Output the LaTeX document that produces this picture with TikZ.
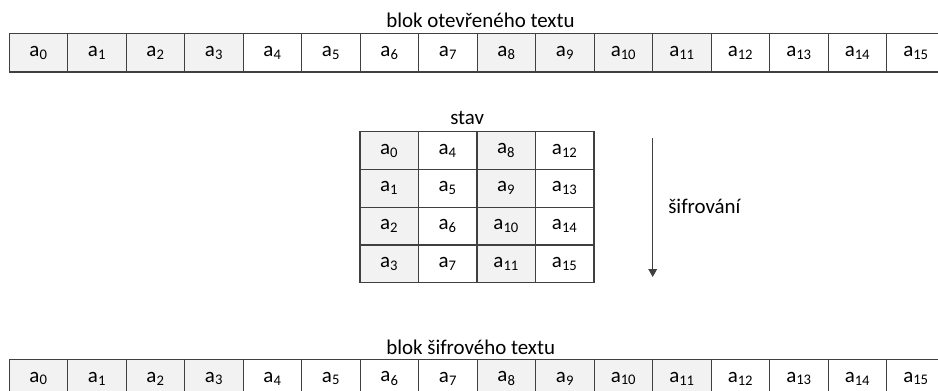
\documentclass[tikz,border=0pt]{standalone}
\usepackage{fontspec}
\setmainfont{Carlito}
\usetikzlibrary{arrows.meta,positioning}
\definecolor{cellline}{HTML}{404040}
\definecolor{cellgray}{HTML}{F2F2F2}
\newcommand{\byte}[1]{a\textsubscript{#1}}

\begin{document}
\begin{tikzpicture}[x=0.75pt,y=-0.75pt,
  every node/.style={font=\fontsize{15.7}{18}\selectfont},
  cell/.style={minimum width=43.9pt,minimum height=28.9pt,inner sep=0pt,outer sep=0pt},
  gridcell/.style={cell,minimum height=28.3pt},
  border/.style={draw=cellline,line width=1pt},
  caption/.style={anchor=base west,inner sep=0pt},
  arrow/.style={-{Triangle[length=6pt,width=6.5pt]},line width=0.9pt,draw=cellline}
]
\useasboundingbox (0,0) rectangle (938,390);
\clip (0,0) rectangle (938,390);
% plaintext block on top, ciphertext block at the bottom
\node[caption] (plainlbl) at (386,27.3) {blok otevřeného textu};
\node[caption] (cipherlbl) at (386,354.3) {blok šifrového textu};
\foreach \i in {0,...,15} {
  \pgfmathtruncatemacro{\col}{int(\i/4)}
  \ifodd\col \def\shade{white}\else\def\shade{cellgray}\fi
  \node[cell,fill=\shade] (p\i) at ({9.3+58.5*(\i+0.5)},52.75) {\byte{\i}};
  \node[cell,fill=\shade] (c\i) at ({9.3+58.5*(\i+0.5)},378.5) {\byte{\i}};
}
% 4x4 state, filled column by column
\node[caption] (statelbl) at (450,124) {stav};
\foreach \i in {0,...,15} {
  \pgfmathtruncatemacro{\col}{int(\i/4)}
  \pgfmathtruncatemacro{\row}{mod(\i,4)}
  \ifodd\col \def\shade{white}\else\def\shade{cellgray}\fi
  \node[gridcell,fill=\shade] (s\i) at ({360+58.5*(\col+0.5)},{131.7+37.75*(\row+0.5)}) {\byte{\i}};
}
% borders last, so no fill covers them
\foreach \i in {0,...,15} {
  \draw[border] (p\i.north west) rectangle (p\i.south east);
  \draw[border] (c\i.north west) rectangle (c\i.south east);
  \draw[border] (s\i.north west) rectangle (s\i.south east);
}
\coordinate (encstart) at (652.7,138);
\coordinate (encend) at (652.7,277);
\draw[arrow] (encstart) -- (encend);
\node[caption] (enclbl) at (668,213.3) {šifrování};
\end{tikzpicture}
\end{document}
